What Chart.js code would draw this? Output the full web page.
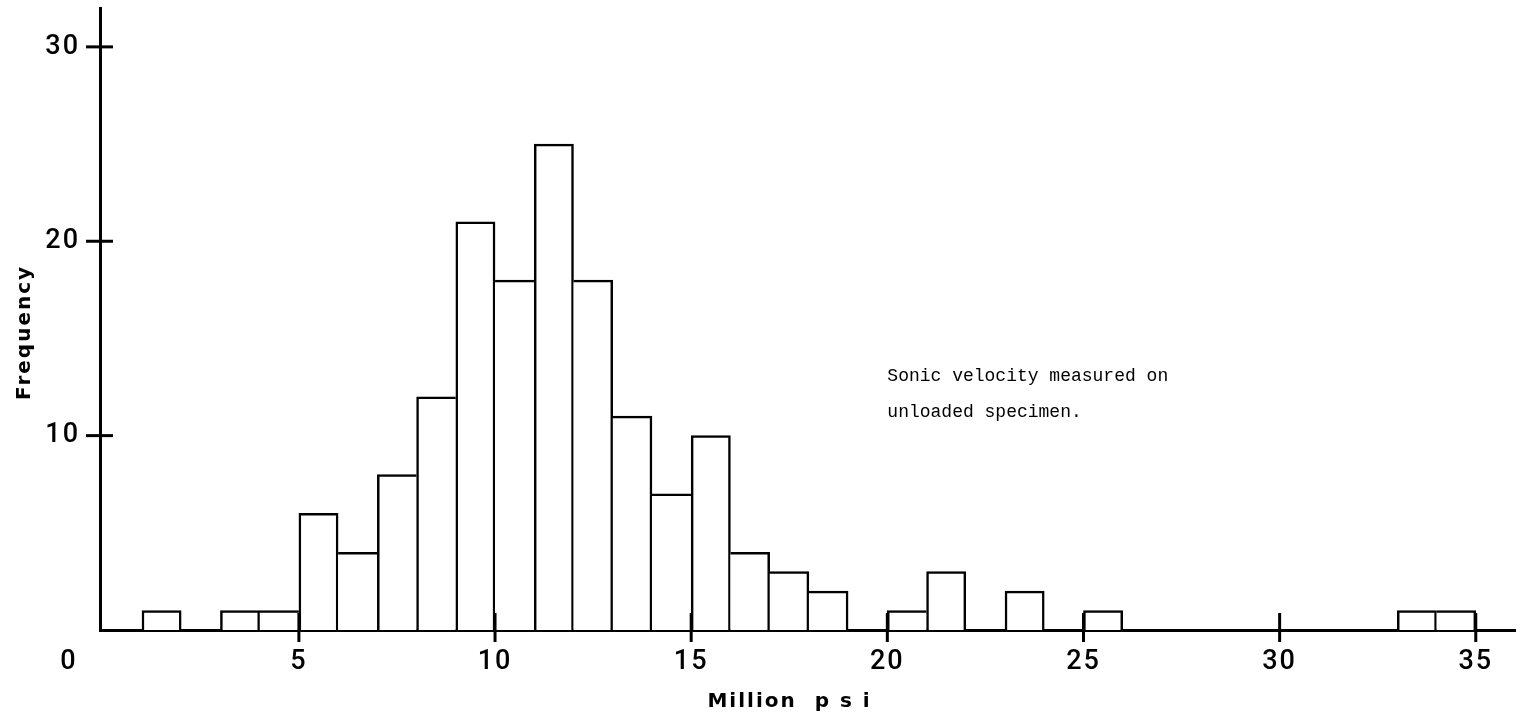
<!DOCTYPE html>
<html>
<head>
<meta charset="utf-8">
<script src="https://cdn.jsdelivr.net/npm/chart.js@4.4.1/dist/chart.umd.min.js"></script>
<style>
  html, body { margin: 0; padding: 0; background: #fff; }
  #wrap { width: 1530px; height: 727px; position: relative; }
</style>
</head>
<body>
<div id="wrap"><canvas id="grafico"></canvas></div>
<script>
// Histograma: inicio de cada clase (millones de psi, ancho 1) y su frecuencia
const binStarts = [1, 3, 4, 5, 6, 7, 8, 9, 10, 11, 12, 13, 14, 15, 16, 17, 18, 20, 21, 23, 25, 33, 34];
const frequencies = [1, 1, 1, 6, 4, 8, 12, 21, 18, 25, 18, 11, 7, 10, 4, 3, 2, 1, 3, 2, 1, 1, 1];
// Marcas de los ejes
const xTicks = [5, 10, 15, 20, 25, 30, 35];
const yTicks = [10, 20, 30];
const nota = ["Sonic velocity measured on", "unloaded specimen."];

const lineW = 2.5;
const fuenteTicks = { family: "Roboto", size: 27, weight: "500" };

// Borde de cada barra: el lado compartido lo dibuja solo la barra más alta
function bordeBarra(c) {
  const i = c.dataIndex;
  const s = binStarts[i];
  const v = frequencies[i];
  const prevJunta = i > 0 && binStarts[i - 1] === s - 1;
  const nextJunta = i < binStarts.length - 1 && binStarts[i + 1] === s + 1;
  return {
    top: lineW,
    bottom: 0,
    left: prevJunta && frequencies[i - 1] >= v ? 0 : lineW,
    right: nextJunta && frequencies[i + 1] > v ? 0 : lineW
  };
}

// Marcas que cruzan los ejes, el "0" del origen y la nota
const ejesPlugin = {
  id: "ejesPlugin",
  beforeDraw(chart) {
    chart.ctx.letterSpacing = "2px";
  },
  afterDraw(chart) {
    const { ctx, scales: { x, y } } = chart;
    ctx.save();
    ctx.letterSpacing = "0px";
    ctx.strokeStyle = "#000";
    ctx.lineWidth = 3;
    const y0 = x.top;
    xTicks.forEach((v) => {
      const px = x.getPixelForValue(v);
      ctx.beginPath();
      ctx.moveTo(px, y0 - 17);
      ctx.lineTo(px, y0 + 12);
      ctx.stroke();
    });
    const x0 = y.right;
    yTicks.forEach((v) => {
      const py = y.getPixelForValue(v);
      ctx.beginPath();
      ctx.moveTo(x0 - 14, py);
      ctx.lineTo(x0 + 13, py);
      ctx.stroke();
    });

    ctx.fillStyle = "#000";
    ctx.letterSpacing = "2px";
    ctx.font = "500 27px Roboto";
    ctx.textAlign = "center";
    ctx.textBaseline = "middle";
    ctx.fillText("0", x.left - 31, x.top + 32);

    ctx.letterSpacing = "0px";
    ctx.font = "18px 'Liberation Mono'";
    ctx.textAlign = "left";
    ctx.textBaseline = "alphabetic";
    const nx = x.getPixelForValue(20);
    const ny = y.getPixelForValue(12.8);
    nota.forEach((t, k) => ctx.fillText(t, nx, ny + k * 36));
    ctx.restore();
  }
};

const datos = binStarts.map((s, i) => ({ x: s + 0.5, y: frequencies[i] }));

new Chart("grafico", {
  type: "bar",
  data: {
    datasets: [
      {
        data: datos,
        backgroundColor: "#fff",
        borderColor: "#000",
        borderWidth: bordeBarra,
        borderSkipped: false,
        barPercentage: 1,
        categoryPercentage: 1
      }
    ]
  },
  options: {
    responsive: true,
    maintainAspectRatio: false,
    animation: false,
    devicePixelRatio: 1,
    layout: { autoPadding: false, padding: { top: 8, right: 15, left: 0, bottom: 0 } },
    plugins: { legend: { display: false }, tooltip: { enabled: false } },
    scales: {
      x: {
        type: "linear",
        offset: false,
        min: -0.07,
        max: 36,
        afterBuildTicks: (s) => { s.ticks = xTicks.map((v) => ({ value: v })); },
        afterFit: (s) => {
          s.height = 97;
          s.paddingLeft = 0;
          s.paddingRight = 0;
        },
        grid: { display: false, drawTicks: false },
        border: { display: true, color: "#000", width: 3 },
        ticks: {
          color: "#000",
          font: fuenteTicks,
          padding: 16,
          maxRotation: 0,
          autoSkip: false
        },
        title: {
          display: true,
          text: "Million  p s i    ",
          color: "#000",
          font: { family: "'DejaVu Sans'", size: 20, weight: "bold" },
          padding: { top: 0, bottom: 13 }
        }
      },
      y: {
        min: 0,
        max: 32,
        afterBuildTicks: (s) => { s.ticks = yTicks.map((v) => ({ value: v })); },
        afterFit: (s) => {
          s.width = 100;
          s.paddingTop = 0;
          s.paddingBottom = 0;
        },
        grid: { display: false, drawTicks: false },
        border: { display: true, color: "#000", width: 3 },
        ticks: {
          color: "#000",
          font: fuenteTicks,
          padding: 20
        },
        title: {
          display: true,
          text: "Frequency   ",
          color: "#000",
          font: { family: "'DejaVu Sans'", size: 20, weight: "bold" },
          padding: { top: 13, bottom: 0 }
        }
      }
    }
  },
  plugins: [ejesPlugin]
});
</script>
</body>
</html>
